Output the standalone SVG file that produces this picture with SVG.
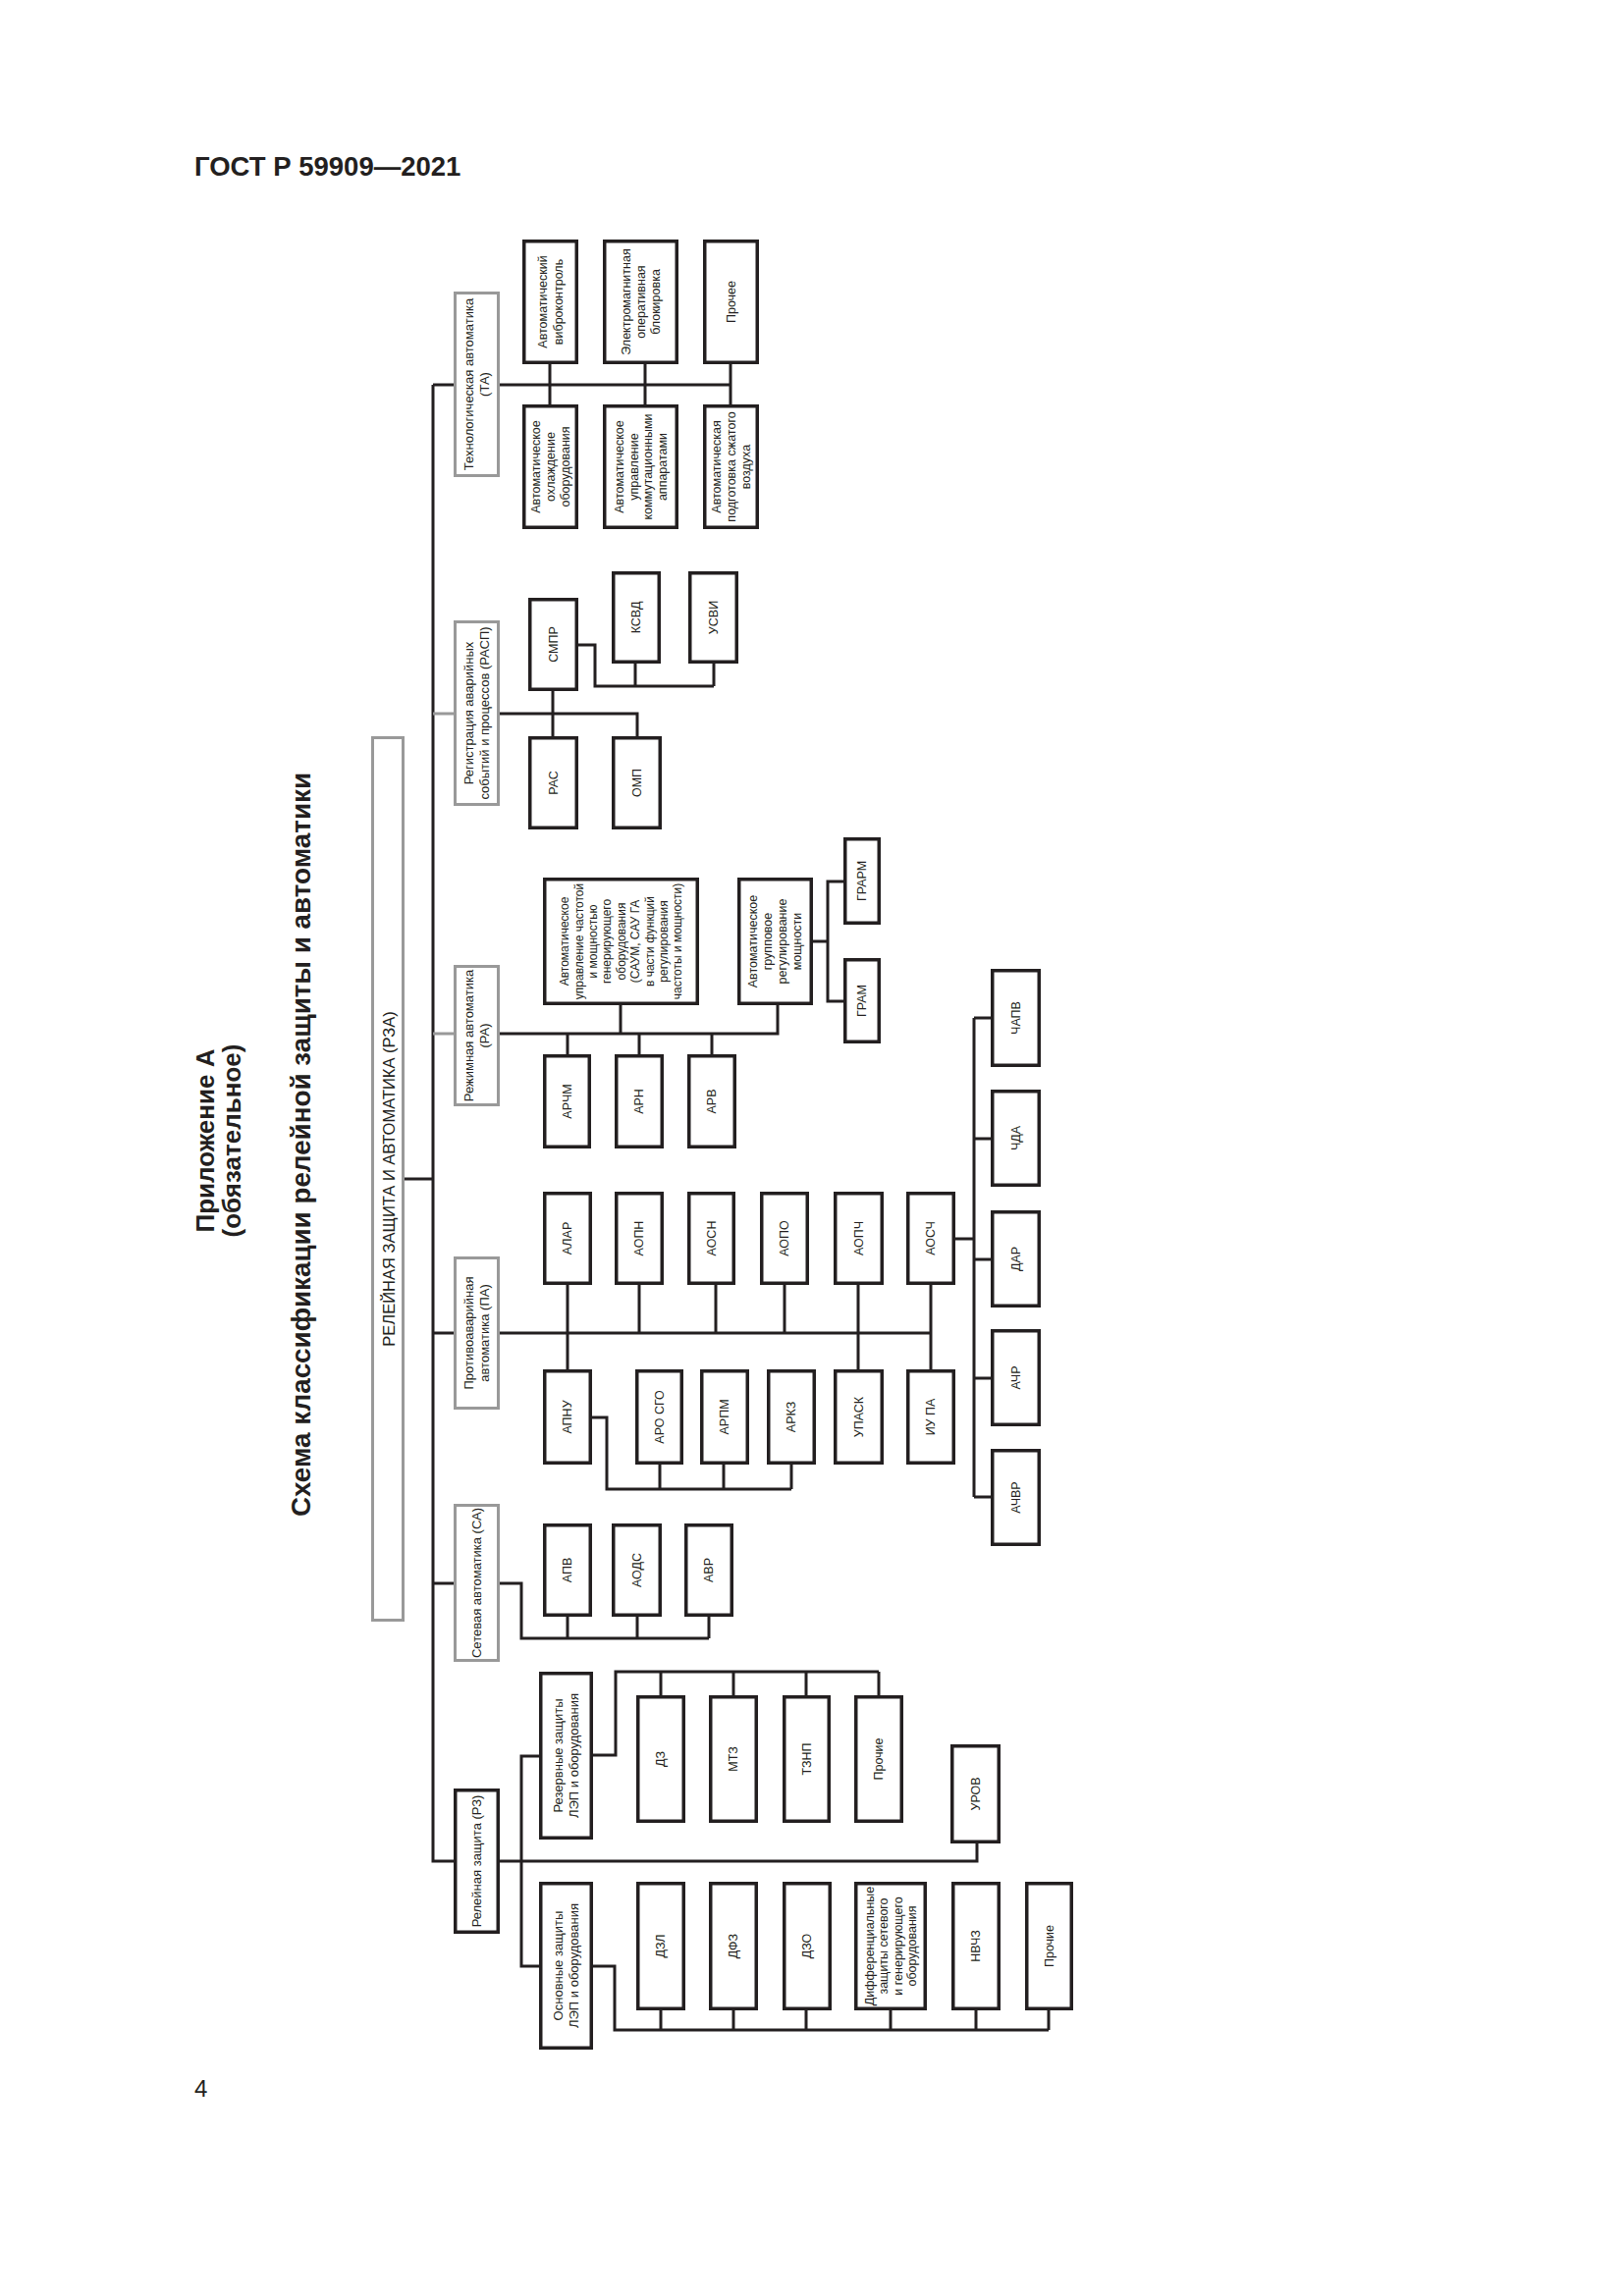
<svg xmlns="http://www.w3.org/2000/svg" width="1654" height="2339" viewBox="0 0 1654 2339">
<style>
text{font-family:"Liberation Sans",Arial,sans-serif;fill:#231f20}
.t{font-size:12.5px;text-anchor:middle}
.tg{font-size:13px;text-anchor:middle}
.tb{font-size:12px;text-anchor:middle}
.n rect{fill:#fff;stroke:#231f20;stroke-width:3.5}
.g rect{fill:#fff;stroke:#999;stroke-width:3}
.c path{fill:none;stroke:#231f20;stroke-width:3}
.c path.gr{stroke:#999}
.h{font-weight:bold}
</style>
<rect width="1654" height="2339" fill="#fff"/>
<text class="h" x="198" y="179" font-size="27.5">ГОСТ Р 59909—2021</text>
<text x="198" y="2136" font-size="24">4</text>
<g id="title">
<text class="h" font-size="26" text-anchor="middle" transform="translate(218,1162) rotate(-90)">Приложение А</text>
<text class="h" font-size="26" text-anchor="middle" transform="translate(245,1162) rotate(-90)">(обязательное)</text>
<text class="h" font-size="27.8" text-anchor="middle" transform="translate(316,1166) rotate(-90)">Схема классификации релейной защиты и автоматики</text>
</g>

<g id="connectors" class="c">
<path d="M441 392V1896H462"/>
<path d="M441 392H462"/>
<path d="M509 392H744"/>
<path d="M560 371V412M657 371V412M744 371V412"/>
<path class="gr" d="M441 727H462"/>
<path d="M509 727H649V750M563 704V750"/>
<path d="M589 657H606V699H727M647 676V699M727 676V699"/>
<path d="M412 1201H441"/>
<path class="gr" d="M441 1053H462"/>
<path d="M509 1053H792V1024M632 1024V1053M578 1053V1074M651 1053V1074M725 1053V1074"/>
<path d="M828 959H843M860 898H843V1020H860"/>
<path d="M441 1358H462"/>
<path d="M509 1358H948"/>
<path d="M578 1309V1395M651 1309V1358M729 1309V1358M799 1309V1358M874 1309V1395M948 1309V1395"/>
<path d="M603 1444H618V1517H806M672 1492V1517M737 1492V1517M806 1492V1517"/>
<path d="M973 1262H992M992 1037V1525M992 1037H1009M992 1160H1009M992 1283H1009M992 1404H1009M992 1525H1009"/>
<path d="M441 1613H462"/>
<path d="M509 1613H531V1669H722M578 1647V1669M649 1647V1669M722 1647V1669"/>
<path d="M509 1896H995V1878"/>
<path d="M549 1789H531V2003H549"/>
<path d="M604 1788H627V1703H895M673 1703V1727M747 1703V1727M821 1703V1727M895 1703V1727"/>
<path d="M604 2003H626V2068H1068M673 2048V2068M747 2048V2068M821 2048V2068M907 2048V2068M994 2048V2068M1068 2048V2068"/>
</g>

<g id="rza" class="g"><rect x="379.5" y="751.5" width="31" height="899"/>
<text font-size="16.5" text-anchor="middle" transform="translate(396,1201) rotate(-90)" y="6">РЕЛЕЙНАЯ ЗАЩИТА И АВТОМАТИКА (РЗА)</text></g>

<g id="ta" class="g"><rect x="463.5" y="298.5" width="44" height="186"/>
<text class="tg" transform="translate(485.5,391.5) rotate(-90)"><tspan x="0" y="-3.5">Технологическая автоматика</tspan><tspan x="0" y="12.5">(ТА)</tspan></text></g>
<g id="rasp" class="g"><rect x="463.5" y="633.5" width="44" height="186"/>
<text class="tg" transform="translate(485.5,726.5) rotate(-90)"><tspan x="0" y="-3.5">Регистрация аварийных</tspan><tspan x="0" y="12.5">событий и процессов (РАСП)</tspan></text></g>
<g id="ra" class="g"><rect x="463.5" y="984.5" width="44" height="141"/>
<text class="tg" transform="translate(485.5,1055) rotate(-90)"><tspan x="0" y="-3.5">Режимная автоматика</tspan><tspan x="0" y="12.5">(РА)</tspan></text></g>
<g id="pa" class="g"><rect x="463.5" y="1281.5" width="44" height="153"/>
<text class="tg" transform="translate(485.5,1358) rotate(-90)"><tspan x="0" y="-3.5">Противоаварийная</tspan><tspan x="0" y="12.5">автоматика (ПА)</tspan></text></g>
<g id="sa" class="g"><rect x="463.5" y="1533.5" width="44" height="158"/>
<text class="tg" transform="translate(485.5,1612.5) rotate(-90)" y="4.5">Сетевая автоматика (СА)</text></g>
<g id="rz" class="n"><rect x="463.75" y="1823.75" width="43.5" height="144.5"/>
<text class="tg" transform="translate(485.5,1896) rotate(-90)" y="4.5">Релейная защита (РЗ)</text></g>

<g id="ta1" class="n"><rect x="533.75" y="245.75" width="53.5" height="123.5"/>
<text class="t" transform="translate(560.5,307.5) rotate(-90)"><tspan x="0" y="-3.5">Автоматический</tspan><tspan x="0" y="12.5">виброконтроль</tspan></text></g>
<g id="ta2" class="n"><rect x="615.75" y="245.75" width="73.5" height="123.5"/>
<text class="t" transform="translate(652.5,307.5) rotate(-90)"><tspan x="0" y="-10.6">Электромагнитная</tspan><tspan x="0" y="4.4">оперативная</tspan><tspan x="0" y="19.4">блокировка</tspan></text></g>
<g id="ta3" class="n"><rect x="717.75" y="245.75" width="53.5" height="123.5"/>
<text class="t" transform="translate(744.5,307.5) rotate(-90)" y="4.4">Прочее</text></g>
<g id="ta4" class="n"><rect x="533.75" y="413.75" width="53.5" height="123.5"/>
<text class="t" transform="translate(560.5,475.5) rotate(-90)"><tspan x="0" y="-10.6">Автоматическое</tspan><tspan x="0" y="4.4">охлаждение</tspan><tspan x="0" y="19.4">оборудования</tspan></text></g>
<g id="ta5" class="n"><rect x="615.75" y="413.75" width="73.5" height="123.5"/>
<text class="t" transform="translate(652.5,475.5) rotate(-90)"><tspan x="0" y="-17.1">Автоматическое</tspan><tspan x="0" y="-2.6">управление</tspan><tspan x="0" y="11.9">коммутационными</tspan><tspan x="0" y="26.4">аппаратами</tspan></text></g>
<g id="ta6" class="n"><rect x="717.75" y="413.75" width="53.5" height="123.5"/>
<text class="t" transform="translate(744.5,475.5) rotate(-90)"><tspan x="0" y="-10.6">Автоматическая</tspan><tspan x="0" y="4.4">подготовка сжатого</tspan><tspan x="0" y="19.4">воздуха</tspan></text></g>

<g id="smpr" class="n"><rect x="539.75" y="610.75" width="47.5" height="91.5"/>
<text class="t" transform="translate(563.5,656.5) rotate(-90)" y="4.4">СМПР</text></g>
<g id="ksvd" class="n"><rect x="624.75" y="583.75" width="46.5" height="90.5"/>
<text class="t" transform="translate(648,629) rotate(-90)" y="4.4">КСВД</text></g>
<g id="usvi" class="n"><rect x="702.75" y="583.75" width="47.5" height="90.5"/>
<text class="t" transform="translate(726.5,629) rotate(-90)" y="4.4">УСВИ</text></g>
<g id="ras" class="n"><rect x="539.75" y="751.75" width="47.5" height="91.5"/>
<text class="t" transform="translate(563.5,797.5) rotate(-90)" y="4.4">РАС</text></g>
<g id="omp" class="n"><rect x="624.75" y="751.75" width="47.5" height="91.5"/>
<text class="t" transform="translate(648.5,797.5) rotate(-90)" y="4.4">ОМП</text></g>

<g id="saum" class="n"><rect x="554.75" y="895.75" width="155.5" height="126.5"/>
<text class="tb" transform="translate(632.5,959) rotate(-90)"><tspan x="0" y="-53.4">Автоматическое</tspan><tspan x="0" y="-39">управление частотой</tspan><tspan x="0" y="-24.6">и мощностью</tspan><tspan x="0" y="-10.2">генерирующего</tspan><tspan x="0" y="4.2">оборудования</tspan><tspan x="0" y="18.6">(САУМ, САУ ГА</tspan><tspan x="0" y="33">в части функций</tspan><tspan x="0" y="47.4">регулирования</tspan><tspan x="0" y="61.8">частоты и мощности)</tspan></text></g>
<g id="grm" class="n"><rect x="752.75" y="895.75" width="73.5" height="126.5"/>
<text class="t" transform="translate(789.5,959) rotate(-90)"><tspan x="0" y="-18.1">Автоматическое</tspan><tspan x="0" y="-3.1">групповое</tspan><tspan x="0" y="11.9">регулирование</tspan><tspan x="0" y="26.9">мощности</tspan></text></g>
<g id="grarm" class="n"><rect x="860.75" y="854.75" width="34.5" height="85.5"/>
<text class="t" transform="translate(878,897.5) rotate(-90)" y="4.4">ГРАРМ</text></g>
<g id="gram" class="n"><rect x="860.75" y="977.75" width="34.5" height="83.5"/>
<text class="t" transform="translate(878,1019.5) rotate(-90)" y="4.4">ГРАМ</text></g>
<g id="archm" class="n"><rect x="554.75" y="1075.75" width="45.5" height="92.5"/>
<text class="t" transform="translate(577.5,1122) rotate(-90)" y="4.4">АРЧМ</text></g>
<g id="arn" class="n"><rect x="627.75" y="1075.75" width="46.5" height="92.5"/>
<text class="t" transform="translate(651,1122) rotate(-90)" y="4.4">АРН</text></g>
<g id="arv" class="n"><rect x="701.75" y="1075.75" width="46.5" height="92.5"/>
<text class="t" transform="translate(725,1122) rotate(-90)" y="4.4">АРВ</text></g>

<g id="alar" class="n"><rect x="554.75" y="1215.75" width="46.5" height="91.5"/>
<text class="t" transform="translate(578,1261.5) rotate(-90)" y="4.4">АЛАР</text></g>
<g id="aopn" class="n"><rect x="627.75" y="1215.75" width="46.5" height="91.5"/>
<text class="t" transform="translate(651,1261.5) rotate(-90)" y="4.4">АОПН</text></g>
<g id="aosn" class="n"><rect x="701.75" y="1215.75" width="45.5" height="91.5"/>
<text class="t" transform="translate(724.5,1261.5) rotate(-90)" y="4.4">АОСН</text></g>
<g id="aopo" class="n"><rect x="775.75" y="1215.75" width="46.5" height="91.5"/>
<text class="t" transform="translate(799,1261.5) rotate(-90)" y="4.4">АОПО</text></g>
<g id="aopch" class="n"><rect x="850.75" y="1215.75" width="47.5" height="91.5"/>
<text class="t" transform="translate(874.5,1261.5) rotate(-90)" y="4.4">АОПЧ</text></g>
<g id="aosch" class="n"><rect x="924.75" y="1215.75" width="46.5" height="91.5"/>
<text class="t" transform="translate(948,1261.5) rotate(-90)" y="4.4">АОСЧ</text></g>

<g id="apnu" class="n"><rect x="554.75" y="1396.75" width="46.5" height="93.5"/>
<text class="t" transform="translate(578,1443.5) rotate(-90)" y="4.4">АПНУ</text></g>
<g id="arosgo" class="n"><rect x="648.75" y="1396.75" width="45.5" height="93.5"/>
<text class="t" transform="translate(671.5,1443.5) rotate(-90)" y="4.4">АРО СГО</text></g>
<g id="arpm" class="n"><rect x="714.75" y="1396.75" width="46.5" height="93.5"/>
<text class="t" transform="translate(738,1443.5) rotate(-90)" y="4.4">АРПМ</text></g>
<g id="arkz" class="n"><rect x="782.75" y="1396.75" width="46.5" height="93.5"/>
<text class="t" transform="translate(806,1443.5) rotate(-90)" y="4.4">АРКЗ</text></g>
<g id="upask" class="n"><rect x="850.75" y="1396.75" width="47.5" height="93.5"/>
<text class="t" transform="translate(874.5,1443.5) rotate(-90)" y="4.4">УПАСК</text></g>
<g id="iupa" class="n"><rect x="924.75" y="1396.75" width="46.5" height="93.5"/>
<text class="t" transform="translate(948,1443.5) rotate(-90)" y="4.4">ИУ ПА</text></g>

<g id="chapv" class="n"><rect x="1010.75" y="988.75" width="47.5" height="96.5"/>
<text class="t" transform="translate(1034.5,1037) rotate(-90)" y="4.4">ЧАПВ</text></g>
<g id="chda" class="n"><rect x="1010.75" y="1111.75" width="47.5" height="95.5"/>
<text class="t" transform="translate(1034.5,1159.5) rotate(-90)" y="4.4">ЧДА</text></g>
<g id="dar" class="n"><rect x="1010.75" y="1234.75" width="47.5" height="95.5"/>
<text class="t" transform="translate(1034.5,1282.5) rotate(-90)" y="4.4">ДАР</text></g>
<g id="achr" class="n"><rect x="1010.75" y="1355.75" width="47.5" height="95.5"/>
<text class="t" transform="translate(1034.5,1403.5) rotate(-90)" y="4.4">АЧР</text></g>
<g id="achvr" class="n"><rect x="1010.75" y="1477.75" width="47.5" height="95.5"/>
<text class="t" transform="translate(1034.5,1525.5) rotate(-90)" y="4.4">АЧВР</text></g>

<g id="apv" class="n"><rect x="554.75" y="1553.75" width="46.5" height="91.5"/>
<text class="t" transform="translate(578,1599.5) rotate(-90)" y="4.4">АПВ</text></g>
<g id="aods" class="n"><rect x="624.75" y="1553.75" width="47.5" height="91.5"/>
<text class="t" transform="translate(648.5,1599.5) rotate(-90)" y="4.4">АОДС</text></g>
<g id="avr" class="n"><rect x="698.75" y="1553.75" width="46.5" height="91.5"/>
<text class="t" transform="translate(722,1599.5) rotate(-90)" y="4.4">АВР</text></g>

<g id="rezerv" class="n"><rect x="550.75" y="1704.75" width="51.5" height="167.5"/>
<text class="tg" transform="translate(576.5,1788.5) rotate(-90)"><tspan x="0" y="-3.5">Резервные защиты</tspan><tspan x="0" y="12.5">ЛЭП и оборудования</tspan></text></g>
<g id="dz" class="n"><rect x="649.75" y="1728.75" width="46.5" height="126.5"/>
<text class="t" transform="translate(673,1792) rotate(-90)" y="4.4">ДЗ</text></g>
<g id="mtz" class="n"><rect x="723.75" y="1728.75" width="46.5" height="126.5"/>
<text class="t" transform="translate(747,1792) rotate(-90)" y="4.4">МТЗ</text></g>
<g id="tznp" class="n"><rect x="798.75" y="1728.75" width="45.5" height="126.5"/>
<text class="t" transform="translate(821.5,1792) rotate(-90)" y="4.4">ТЗНП</text></g>
<g id="proch1" class="n"><rect x="871.75" y="1728.75" width="46.5" height="126.5"/>
<text class="t" transform="translate(895,1792) rotate(-90)" y="4.4">Прочие</text></g>
<g id="urov" class="n"><rect x="969.75" y="1778.75" width="47.5" height="97.5"/>
<text class="t" transform="translate(993.5,1827.5) rotate(-90)" y="4.4">УРОВ</text></g>

<g id="osnov" class="n"><rect x="550.75" y="1918.75" width="51.5" height="167.5"/>
<text class="tg" transform="translate(576.5,2002.5) rotate(-90)"><tspan x="0" y="-3.5">Основные защиты</tspan><tspan x="0" y="12.5">ЛЭП и оборудования</tspan></text></g>
<g id="dzl" class="n"><rect x="649.75" y="1918.75" width="46.5" height="127.5"/>
<text class="t" transform="translate(673,1982.5) rotate(-90)" y="4.4">ДЗЛ</text></g>
<g id="dfz" class="n"><rect x="723.75" y="1918.75" width="46.5" height="127.5"/>
<text class="t" transform="translate(747,1982.5) rotate(-90)" y="4.4">ДФЗ</text></g>
<g id="dzo" class="n"><rect x="798.75" y="1918.75" width="46.5" height="127.5"/>
<text class="t" transform="translate(822,1982.5) rotate(-90)" y="4.4">ДЗО</text></g>
<g id="diff" class="n"><rect x="871.75" y="1918.75" width="70.5" height="127.5"/>
<text class="t" transform="translate(907,1982.5) rotate(-90)"><tspan x="0" y="-17.1">Дифференциальные</tspan><tspan x="0" y="-2.6">защиты сетевого</tspan><tspan x="0" y="11.9">и генерирующего</tspan><tspan x="0" y="26.4">оборудования</tspan></text></g>
<g id="nvchz" class="n"><rect x="970.75" y="1918.75" width="46.5" height="127.5"/>
<text class="t" transform="translate(994,1982.5) rotate(-90)" y="4.4">НВЧЗ</text></g>
<g id="proch2" class="n"><rect x="1045.75" y="1918.75" width="45.5" height="127.5"/>
<text class="t" transform="translate(1068.5,1982.5) rotate(-90)" y="4.4">Прочие</text></g>
</svg>
